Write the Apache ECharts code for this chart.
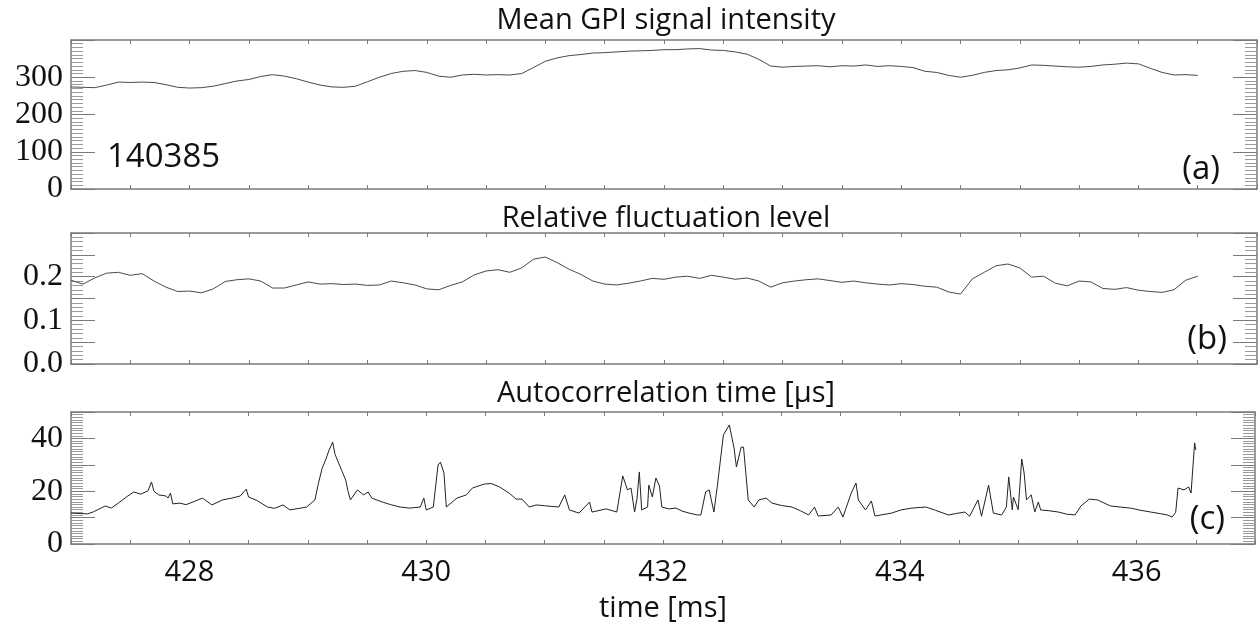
<!DOCTYPE html>
<html>
<head>
<meta charset="utf-8">
<script src="https://cdn.jsdelivr.net/npm/echarts@6/dist/echarts.min.js"></script>
<style>
  html, body { margin: 0; padding: 0; background: #fff; }
  #chart { width: 1258px; height: 630px; }
</style>
</head>
<body>
<div id="chart"></div>
<script>
// Shot 140385: GPI diagnostics over time [ms]
const shotLabel = '140385';
const panelTitles = ['Mean GPI signal intensity', 'Relative fluctuation level', 'Autocorrelation time [\u03bcs]'];
const panelTags = ['(a)', '(b)', '(c)'];
const timeAxisName = 'time [ms]';

// (a) and (b) are sampled every 0.1 ms starting at 427.0 ms
const sampleStart = 427.0;
const sampleStep = 0.1;

// (a) mean GPI signal intensity
const meanIntensity = [
  274, 273, 272, 279, 287, 286, 287, 286, 280, 273,
  271, 272, 276, 283, 290, 294, 302, 307, 303, 296,
  287, 279, 274, 273, 276, 288, 300, 310, 316, 318,
  313, 303, 300, 306, 308, 306, 307, 306, 310, 326,
  343, 352, 358, 361, 365, 366, 368, 370, 371, 372,
  374, 374, 376, 377, 373, 372, 368, 362, 348, 330,
  327, 329, 330, 331, 328, 331, 330, 333, 329, 331,
  329, 326, 316, 313, 305, 300, 305, 313, 318, 320,
  325, 333, 332, 330, 328, 327, 329, 333, 335, 338,
  336, 324, 313, 306, 307, 305
];

// (b) relative fluctuation level
const relFluct = [
  0.192, 0.183, 0.197, 0.208, 0.210, 0.203, 0.207, 0.190, 0.176, 0.166,
  0.167, 0.163, 0.172, 0.189, 0.193, 0.195, 0.190, 0.174, 0.174, 0.181,
  0.188, 0.183, 0.184, 0.182, 0.183, 0.180, 0.181, 0.190, 0.186, 0.181,
  0.172, 0.170, 0.180, 0.188, 0.204, 0.213, 0.216, 0.210, 0.220, 0.240,
  0.245, 0.232, 0.217, 0.205, 0.190, 0.183, 0.181, 0.185, 0.190, 0.196,
  0.194, 0.199, 0.201, 0.196, 0.203, 0.199, 0.194, 0.197, 0.190, 0.176,
  0.186, 0.190, 0.193, 0.195, 0.191, 0.187, 0.190, 0.186, 0.183, 0.181,
  0.184, 0.182, 0.178, 0.176, 0.165, 0.160, 0.195, 0.210, 0.225, 0.229,
  0.220, 0.199, 0.201, 0.185, 0.179, 0.190, 0.188, 0.173, 0.171, 0.175,
  0.169, 0.166, 0.164, 0.170, 0.192, 0.201
];

// (c) autocorrelation time: irregular samples (time [ms], value [us])
const acTime = [
  427.00, 427.14, 427.19, 427.29, 427.34, 427.40, 427.48, 427.53, 427.59, 427.65,
  427.68, 427.70, 427.74, 427.80, 427.82, 427.84, 427.86, 427.92, 427.97, 428.03,
  428.11, 428.19, 428.28, 428.36, 428.43, 428.48, 428.50, 428.57, 428.66, 428.72,
  428.79, 428.85, 428.94, 428.99, 429.06, 429.09, 429.12, 429.15, 429.18, 429.21,
  429.23, 429.26, 429.29, 429.32, 429.34, 429.36, 429.42, 429.47, 429.51, 429.54,
  429.63, 429.70, 429.78, 429.86, 429.95, 429.98, 430.00, 430.06, 430.10, 430.12,
  430.15, 430.17, 430.26, 430.34, 430.39, 430.49, 430.55, 430.62, 430.70, 430.76,
  430.81, 430.87, 430.93, 431.00, 431.12, 431.17, 431.21, 431.29, 431.38, 431.40,
  431.52, 431.61, 431.66, 431.70, 431.73, 431.76, 431.78, 431.80, 431.82, 431.87,
  431.88, 431.91, 431.94, 431.97, 431.99, 432.05, 432.11, 432.16, 432.22, 432.29,
  432.32, 432.36, 432.39, 432.43, 432.46, 432.51, 432.56, 432.60, 432.62, 432.66,
  432.68, 432.72, 432.77, 432.81, 432.87, 432.92, 433.00, 433.09, 433.16, 433.23,
  433.28, 433.31, 433.42, 433.48, 433.52, 433.59, 433.63, 433.65, 433.71, 433.76,
  433.79, 433.93, 434.01, 434.10, 434.22, 434.30, 434.41, 434.48, 434.55, 434.59,
  434.66, 434.69, 434.75, 434.79, 434.86, 434.90, 434.92, 434.95, 434.96, 435.00,
  435.03, 435.05, 435.07, 435.11, 435.14, 435.17, 435.19, 435.26, 435.34, 435.41,
  435.48, 435.53, 435.60, 435.67, 435.78, 435.86, 435.95, 436.03, 436.12, 436.20,
  436.26, 436.30, 436.33, 436.35, 436.40, 436.44, 436.46, 436.49, 436.50
];
const acValue = [
  11.7, 11.4, 12.2, 14.4, 13.6, 15.5, 18.2, 19.7, 18.9, 20.1,
  23.5, 20.0, 18.6, 18.2, 17.4, 19.3, 15.2, 15.5, 14.9, 15.9,
  17.4, 14.8, 16.7, 17.4, 18.2, 20.8, 17.8, 16.5, 14.0, 13.5,
  14.8, 12.9, 13.6, 14.0, 16.7, 23.0, 28.5, 31.8, 35.6, 38.6,
  34.0, 30.7, 27.5, 24.2, 20.0, 16.7, 20.5, 18.6, 19.7, 17.4,
  15.9, 14.9, 14.0, 13.6, 14.0, 17.4, 12.9, 14.0, 29.9, 31.0,
  26.9, 14.0, 17.4, 18.6, 21.2, 22.7, 22.9, 21.6, 19.3, 17.0,
  17.0, 14.0, 14.8, 14.5, 14.0, 18.6, 12.9, 11.7, 15.9, 12.1,
  13.3, 12.1, 25.8, 20.5, 21.2, 12.1, 17.0, 27.3, 12.9, 14.0,
  22.3, 17.8, 25.0, 22.0, 14.0, 13.3, 13.6, 12.5, 11.7, 11.0,
  11.0, 19.7, 20.5, 12.1, 22.3, 41.3, 45.1, 36.4, 29.2, 36.7,
  36.7, 16.7, 14.0, 16.7, 17.4, 15.5, 14.6, 14.0, 12.6, 11.0,
  14.0, 10.6, 11.0, 14.0, 10.2, 19.3, 23.1, 16.7, 12.9, 16.3,
  10.6, 11.7, 12.9, 13.6, 14.0, 12.8, 11.0, 11.6, 12.1, 10.5,
  16.7, 10.5, 22.3, 11.7, 11.0, 14.0, 25.4, 12.9, 17.8, 13.0,
  32.2, 26.9, 16.7, 18.6, 12.1, 15.9, 12.9, 12.6, 12.1, 11.3,
  11.0, 14.4, 17.0, 16.7, 14.4, 14.0, 13.6, 12.8, 12.1, 11.5,
  11.0, 10.2, 12.0, 21.2, 20.5, 21.6, 19.3, 38.3, 35.6
];

// y-axis tick settings per panel
const yMins = [0, 0, 0];
const yMaxs = [400, 0.3, 50];
const yIntervals = [100, 0.05, 10];
const yMinorSplits = [10, 5, 10];

const uniformPairs = (vals) => vals.map((v, i) => [+(sampleStart + i * sampleStep).toFixed(2), v]);
const seriesData = [
  uniformPairs(meanIntensity),
  uniformPairs(relFluct),
  acTime.map((t, i) => [t, acValue[i]])
];

const yLabelFormatters = [
  (v) => (v < 400 ? String(v) : ''),
  (v) => { const k = Math.round(v * 100); return (k % 10 === 0 && k < 30) ? (k / 100).toFixed(1) : ''; },
  (v) => (v % 20 === 0 && v < 50 ? String(v) : '')
];

const frameColor = '#7a7a7a';
const grids = [
  { left: 71, right: 1, top: 40, bottom: 441 },
  { left: 71, right: 1, top: 233, bottom: 266 },
  { left: 71, right: 1, top: 412, bottom: 86 }
];

const xAxes = [];
const yAxes = [];
grids.forEach((g, gi) => {
  ['bottom', 'top'].forEach((pos) => {
    const showLabels = gi === 2 && pos === 'bottom';
    xAxes.push({
      type: 'value', gridIndex: gi, position: pos,
      min: 427, max: 437, interval: 0.5,
      axisLine: { show: true, onZero: false, lineStyle: { color: frameColor, width: 1.5 } },
      axisTick: { show: true, inside: true, length: 4, lineStyle: { color: frameColor, width: 1 } },
      splitLine: { show: false },
      axisLabel: {
        show: showLabels, margin: 14,
        fontFamily: 'Open Sans', fontSize: 29, color: '#111',
        formatter: (v) => (Math.abs(v % 2) < 1e-9 && v > 427 && v < 437 ? String(v) : '')
      },
      name: showLabels ? timeAxisName : '',
      nameLocation: 'middle', nameGap: 50,
      nameTextStyle: { fontFamily: 'Open Sans', fontSize: 29, color: '#111' }
    });
  });
  ['left', 'right'].forEach((pos) => {
    yAxes.push({
      type: 'value', gridIndex: gi, position: pos,
      min: yMins[gi], max: yMaxs[gi], interval: yIntervals[gi],
      axisLine: { show: true, lineStyle: { color: frameColor, width: 1.5 } },
      axisTick: { show: true, inside: true, length: 24, lineStyle: { color: frameColor, width: 1 } },
      minorTick: { show: true, splitNumber: yMinorSplits[gi], length: 12, lineStyle: { color: '#9a9a9a', width: 1 } },
      splitLine: { show: false },
      minorSplitLine: { show: false },
      axisLabel: {
        show: pos === 'left', margin: 8,
        fontFamily: 'Liberation Serif', fontSize: 32, color: '#111',
        formatter: yLabelFormatters[gi]
      }
    });
  });
});

const lineColors = ['#4a4a4a', '#4a4a4a', '#222'];
const series = seriesData.map((d, gi) => ({
  type: 'line',
  xAxisIndex: gi * 2,
  yAxisIndex: gi * 2,
  data: d,
  showSymbol: false,
  symbol: 'none',
  animation: false,
  lineStyle: { color: lineColors[gi], width: 1 }
}));

const titleTops = [6, 204, 379];
const titles = panelTitles.map((t, i) => ({
  text: t, left: 666, top: titleTops[i], padding: 0, textAlign: 'center',
  textStyle: { fontFamily: 'Open Sans', fontSize: 29, fontWeight: 'normal', color: '#111' }
}));

const tagPos = [[1220, 170], [1227, 340], [1225, 520]];
const graphics = panelTags.map((tag, i) => ({
  type: 'text', x: tagPos[i][0], y: tagPos[i][1],
  style: { text: tag, fontFamily: 'Open Sans', fontSize: 33, fill: '#111', align: 'right', verticalAlign: 'middle' }
}));
graphics.push({
  type: 'text', x: 107, y: 158,
  style: { text: shotLabel, fontFamily: 'Open Sans', fontSize: 33, fill: '#111', align: 'left', verticalAlign: 'middle' }
});

const chart = echarts.init(document.getElementById('chart'), null, { renderer: 'canvas' });
chart.setOption({
  backgroundColor: '#fff',
  animation: false,
  title: titles,
  grid: grids,
  xAxis: xAxes,
  yAxis: yAxes,
  series: series,
  graphic: graphics
});
</script>
</body>
</html>
